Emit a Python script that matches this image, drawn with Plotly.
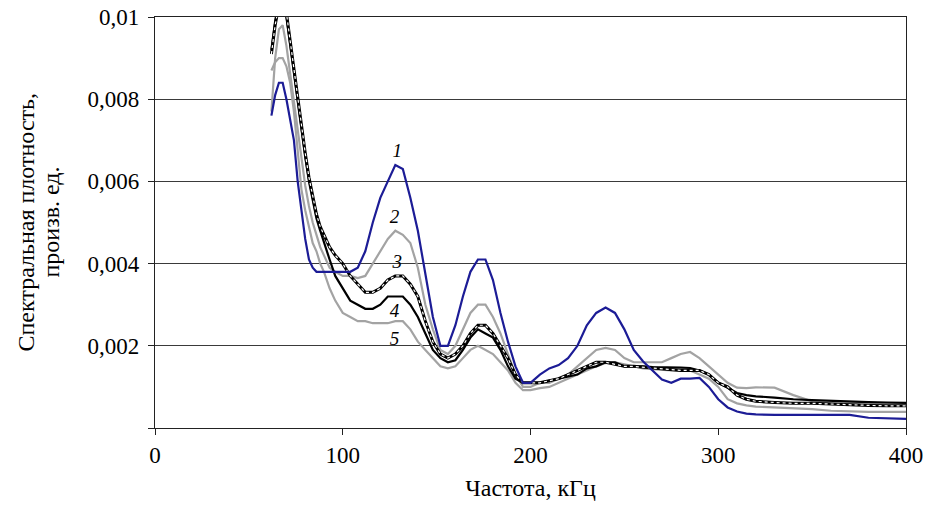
import plotly.graph_objects as go

# Frequency grid, kHz
freq = [62, 64, 66, 68, 70, 72, 74, 76, 78, 80, 82, 84, 86, 88, 90, 93, 96, 100, 104, 108,
        112, 116, 120, 124, 128, 132, 136, 140, 144, 148, 152, 156, 160, 164, 168, 172, 176,
        180, 184, 188, 192, 196, 200, 205, 210, 215, 220, 225, 230, 235, 240, 245, 250, 255,
        260, 265, 270, 275, 280, 285, 290, 295, 300, 305, 310, 315, 320, 330, 340, 350, 360,
        370, 380, 390, 400]

# Spectral density, arbitrary units
curve1 = [0.0076, 0.0081, 0.0084, 0.0084, 0.0080, 0.0075, 0.0070, 0.0060, 0.0053, 0.0046,
          0.0041, 0.0039, 0.0038, 0.0038, 0.0038, 0.0038, 0.0038, 0.0038, 0.0038, 0.0039,
          0.0043, 0.0050, 0.0056, 0.0060, 0.0064, 0.0063, 0.0056, 0.0048, 0.0037, 0.0027,
          0.0020, 0.0020, 0.0025, 0.0032, 0.0038, 0.0041, 0.0041, 0.0036, 0.0028, 0.0021,
          0.0015, 0.0011, 0.0011, 0.0013, 0.00145, 0.00153, 0.0017, 0.0020, 0.0025, 0.0028,
          0.00293, 0.0028, 0.0024, 0.0019, 0.00162, 0.0014, 0.00118, 0.0011, 0.0012, 0.0012,
          0.00122, 0.0010, 0.0007, 0.0005, 0.0004, 0.00035, 0.00033, 0.00032, 0.00032, 0.00032,
          0.00032, 0.00032, 0.00025, 0.00023, 0.00022]

curve2 = [0.0077, 0.0090, 0.0097, 0.0098, 0.0093, 0.0086, 0.0080, 0.0073, 0.0066, 0.0059,
          0.0054, 0.0050, 0.0047, 0.0044, 0.0042, 0.0039, 0.0038, 0.0037, 0.0037, 0.00365,
          0.0037, 0.0040, 0.0043, 0.0046, 0.0048, 0.0047, 0.0045, 0.0039, 0.0030, 0.0024,
          0.0019, 0.0018, 0.0020, 0.0024, 0.0028, 0.0030, 0.0030, 0.0027, 0.0023, 0.0018,
          0.0013, 0.0010, 0.0010, 0.0011, 0.0011, 0.0012, 0.0013, 0.0015, 0.0017, 0.0019,
          0.00195, 0.0019, 0.0017, 0.0016, 0.0016, 0.0016, 0.0016, 0.0017, 0.0018, 0.00185,
          0.0017, 0.0015, 0.0013, 0.0011, 0.00098, 0.00097, 0.00099, 0.00098, 0.0008, 0.00065,
          0.0006, 0.0006, 0.0006, 0.0006, 0.0006]

curve3 = [0.0091, 0.0098, 0.0103, 0.0104, 0.0101, 0.0094, 0.0087, 0.0080, 0.0074, 0.0067,
          0.0061, 0.0056, 0.0052, 0.0049, 0.0047, 0.0044, 0.0042, 0.0040, 0.0037, 0.0035,
          0.0033, 0.0033, 0.0034, 0.0036, 0.0037, 0.0037, 0.0035, 0.0032, 0.0026, 0.0021,
          0.0018, 0.0017, 0.0018, 0.0020, 0.0023, 0.0025, 0.0025, 0.0023, 0.0020, 0.0017,
          0.0013, 0.0011, 0.0011, 0.0011, 0.00115, 0.0012, 0.0013, 0.0014, 0.0015, 0.0016,
          0.0016, 0.00155, 0.0015, 0.0015, 0.00148, 0.00146, 0.00143, 0.00141, 0.0014, 0.0014,
          0.0014, 0.0013, 0.0011, 0.0010, 0.0008, 0.0007, 0.00065, 0.00062, 0.0006, 0.0006,
          0.00058, 0.00056, 0.00055, 0.00054, 0.00054]

curve4 = [0.0092, 0.0099, 0.0104, 0.0104, 0.0100, 0.0093, 0.0086, 0.0079, 0.0073, 0.0066,
          0.0060, 0.0055, 0.0051, 0.0048, 0.0045, 0.0041, 0.0037, 0.0034, 0.0031, 0.0030,
          0.0029, 0.0029, 0.0030, 0.0032, 0.0032, 0.0032, 0.0030, 0.0027, 0.0023, 0.0019,
          0.0017, 0.0016, 0.00165, 0.0019, 0.0022, 0.0024, 0.0023, 0.0022, 0.0019, 0.0015,
          0.0012, 0.0011, 0.0011, 0.0011, 0.00115, 0.0012, 0.00125, 0.0013, 0.00145, 0.0015,
          0.0016, 0.0016, 0.0015, 0.0015, 0.0015, 0.00148, 0.00148, 0.00148, 0.00147, 0.00146,
          0.0014, 0.0013, 0.0011, 0.00098, 0.00085, 0.0008, 0.00077, 0.00074, 0.0007, 0.00068,
          0.00066, 0.00065, 0.00063, 0.00062, 0.00061]

curve5 = [0.0087, 0.0089, 0.0090, 0.0090, 0.0088, 0.0084, 0.0077, 0.0068, 0.0058, 0.0053,
          0.0049, 0.0045, 0.0043, 0.0040, 0.0038, 0.0034, 0.0031, 0.0028, 0.0027, 0.0026,
          0.0026, 0.00255, 0.00255, 0.00255, 0.0026, 0.0026, 0.0024, 0.0021, 0.0019, 0.0017,
          0.0015, 0.00145, 0.0015, 0.0017, 0.0019, 0.0020, 0.0019, 0.0018, 0.0016, 0.0014,
          0.0011, 0.00092, 0.00092, 0.00097, 0.0010, 0.0011, 0.0012, 0.0013, 0.0014, 0.0015,
          0.00158, 0.0016, 0.00155, 0.0015, 0.00145, 0.00143, 0.00141, 0.0014, 0.0014, 0.0014,
          0.0013, 0.0012, 0.0010, 0.0007, 0.0006, 0.00055, 0.00052, 0.0005, 0.00049, 0.00046,
          0.00042, 0.0004, 0.00039, 0.00039, 0.00039]

# Curve labels: text, frequency, value
label_text = ["1", "2", "3", "4", "5"]
label_x = [129, 127.5, 129, 127.5, 127.5]
label_y = [0.0067, 0.0051, 0.0040, 0.00282, 0.00214]

y_ticks = [0, 0.002, 0.004, 0.006, 0.008, 0.01]
y_tick_text = ["", "0,002", "0,004", "0,006", "0,008", "0,01"]
x_ticks = [0, 100, 200, 300, 400]

BLUE = "#1c1c96"
GRAY = "#a3a3a3"
SERIF = "Liberation Serif, Times New Roman, serif"

fig = go.Figure()

fig.add_trace(go.Scatter(x=freq, y=curve5, mode="lines",
                         line=dict(color=GRAY, width=2.2), showlegend=False))
fig.add_trace(go.Scatter(x=freq, y=curve2, mode="lines",
                         line=dict(color=GRAY, width=2.2), showlegend=False))
fig.add_trace(go.Scatter(x=freq, y=curve4, mode="lines",
                         line=dict(color="black", width=2.2), showlegend=False))
# curve 3: black chain with white dots
fig.add_trace(go.Scatter(x=freq, y=curve3, mode="lines",
                         line=dict(color="black", width=3), showlegend=False))
fig.add_trace(go.Scatter(x=freq, y=curve3, mode="lines",
                         line=dict(color="white", width=1.2, dash="dot"), showlegend=False))
fig.add_trace(go.Scatter(x=freq, y=curve1, mode="lines",
                         line=dict(color=BLUE, width=2.2), showlegend=False))

fig.add_trace(go.Scatter(x=label_x, y=label_y, mode="text", text=label_text,
                         textfont=dict(family=SERIF, size=19, color="black", style="italic"),
                         showlegend=False, hoverinfo="skip"))

title_font = dict(family=SERIF, size=24, color="black")

fig.update_layout(
    width=927, height=506,
    margin=dict(l=155, r=21, t=17, b=78, autoexpand=False),
    paper_bgcolor="white", plot_bgcolor="white",
    font=dict(family=SERIF, size=23, color="black"),
    xaxis=dict(
        range=[0, 400], tickvals=x_ticks, ticks="outside", ticklen=6, tickwidth=1.3,
        tickcolor="#222", showline=True, linecolor="#222", linewidth=1.3, mirror=True,
        showgrid=False, zeroline=False, automargin=False,
        title=dict(text="Частота, кГц", font=title_font, standoff=12),
    ),
    yaxis=dict(
        range=[0, 0.01], tickvals=y_ticks, ticktext=y_tick_text, ticks="outside",
        ticklen=6, tickwidth=1.3, tickcolor="#222", showline=True, linecolor="#222",
        linewidth=1.3, mirror=True, showgrid=True, gridcolor="#3a3a3a", gridwidth=1.3,
        zeroline=False, ticklabelstandoff=4, automargin=False,
    ),
    annotations=[
        dict(text="Спектральная плотность,", textangle=-90,
             xref="paper", yref="paper", x=-0.1731, y=0.5, xanchor="center",
             yanchor="middle", showarrow=False, font=title_font),
        dict(text="произв. ед.", textangle=-90,
             xref="paper", yref="paper", x=-0.1398, y=0.5, xanchor="center",
             yanchor="middle", showarrow=False, font=title_font),
    ],
)

fig.write_html("out.html")
